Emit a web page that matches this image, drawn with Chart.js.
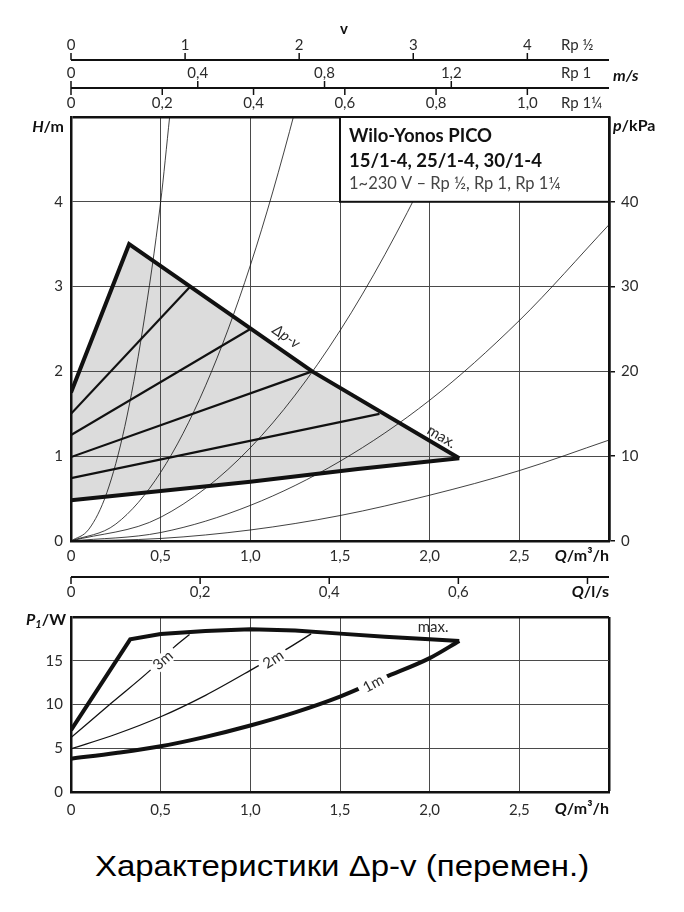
<!DOCTYPE html>
<html>
<head>
<meta charset="utf-8">
<script src="https://cdn.jsdelivr.net/npm/chart.js@4.4.1/dist/chart.umd.min.js"></script>
<style>
  body { margin: 0; background: #fff; }
  #page { position: relative; width: 684px; height: 912px; }
  #head-chart { position: absolute; left: 0; top: 0; }
  #power-chart { position: absolute; left: 0; top: 600px; }
  #caption {
    position: absolute; left: 0; top: 849px; width: 684px;
    text-align: center; color: #000;
    font: 30px/34px "Liberation Sans", Arial, sans-serif;
    transform: scaleX(1.1);
  }
</style>
</head>
<body>
<div id="page">
  <canvas id="head-chart" width="684" height="600"></canvas>
  <canvas id="power-chart" width="684" height="240"></canvas>
  <div id="caption">Характеристики Δp-v (перемен.)</div>
</div>
<script>
const FONT = "Lato";
const INK = "#111";
const TICK_INK = "#2b2b2b";
const GRID = "#4a4a4a";
const AREA = "#dcdcdc";

// tick labels
const qLabels = ["0", "0,5", "1,0", "1,5", "2,0", "2,5", ""];
const hLabels = ["0", "1", "2", "3", "4", ""];
const pLabels = ["0", "10", "20", "30", "40", ""];
const powerLabels = ["0", "5", "10", "15", ""];

// velocity scales above the head chart, one per connection size
const pipeNames = ["Rp ½", "Rp 1", "Rp 1¼"];
const pipeBore = [15, 25, 30]; // mm
const vHalfTicks = [0, 1, 2, 3, 4];
const vHalfLabels = ["0", "1", "2", "3", "4"];
const vOneTicks = [0, 0.4, 0.8, 1.2];
const vOneLabels = ["0", "0,4", "0,8", "1,2"];
const vOneQTicks = [0, 0.2, 0.4, 0.6, 0.8, 1.0];
const vOneQLabels = ["0", "0,2", "0,4", "0,6", "0,8", "1,0"];
const qlTicks = [0, 0.2, 0.4, 0.6, 0.8];
const qlLabels = ["0", "0,2", "0,4", "0,6", ""];

const boxLines = ["Wilo-Yonos PICO", "15/1-4, 25/1-4, 30/1-4", "1~230 V – Rp ½, Rp 1, Rp 1¼"];

// head H/m over Q/m³/h
const maxCurve = [[0, 1.75], [0.324, 3.5], [1.345, 2.0], [2.165, 0.975]];
const minCurve = [[0, 0.48], [1.0, 0.70], [1.6, 0.85], [2.165, 0.975]];
const setLine1 = [[0, 1.5], [0.665, 3.0]];
const setLine2 = [[0, 1.25], [1.0, 2.5]];
const setLine3 = [[0, 0.99], [1.345, 2.0]];
const setLine4 = [[0, 0.74], [1.72, 1.5]];

// system curves
const sysCurveA = [[0, 0], [0.1, 0.14], [0.2, 0.57], [0.3, 1.35], [0.4, 2.5], [0.5, 4.0], [0.55, 5.0], [0.6, 6.0]];
const sysCurveB = [[0, 0], [0.25, 0.2], [0.5, 0.81], [0.75, 1.83], [1.0, 3.25], [1.25, 5.08], [1.4, 6.4]];
const sysCurveC = [[0, 0], [0.5, 0.28], [1.0, 1.1], [1.5, 2.48], [2.0, 4.4], [2.25, 5.6]];
const sysCurveD = [[0, 0], [0.5, 0.1], [1.0, 0.42], [1.5, 0.94], [2.0, 1.66], [2.5, 2.6], [3.0, 3.73]];
const sysCurveE = [[0, 0], [0.5, 0.03], [1.0, 0.13], [1.5, 0.3], [2.0, 0.54], [2.5, 0.83], [3.0, 1.19]];

// power P1/W over Q/m³/h
const powerMax = [[0, 7.08], [0.33, 17.44], [0.5, 18.05], [0.75, 18.4], [1.0, 18.6], [1.25, 18.45], [1.5, 18.1], [1.75, 17.75], [2.0, 17.45], [2.165, 17.26]];
const power1m = [[0, 3.81], [0.25, 4.45], [0.5, 5.22], [0.75, 6.3], [1.0, 7.6], [1.25, 9.1], [1.5, 10.9], [1.75, 13.1], [2.0, 15.3], [2.165, 17.26]];
const power2m = [[0, 4.93], [0.25, 6.6], [0.5, 8.6], [0.75, 11.05], [1.0, 13.9], [1.2, 16.3], [1.339, 18.07]];
const power3m = [[0, 6.22], [0.227, 10.2], [0.441, 13.9], [0.572, 16.5], [0.661, 18.0]];

const headNotes = [
  { text: "Δp-v", q: 1.2, v: 2.41, angle: 35, italic: true },
  { text: "max.", q: 2.067, v: 1.23, angle: 31 },
];
const powerNotes = [
  { text: "3m", q: 0.513, v: 15.03, angle: -41, knock: true },
  { text: "2m", q: 1.128, v: 15.14, angle: -33, knock: true },
  { text: "1m", q: 1.686, v: 12.38, angle: -28, knock: true },
  { text: "max.", q: 2.019, v: 18.85, angle: 0 },
];

const Q_MAX = 3; // m³/h
const velocityMax = (bore) => Q_MAX / 3600 / (Math.PI * Math.pow(bore / 2000, 2));

const toPoints = (pairs) => pairs.map(([x, y]) => ({ x, y }));
const line = (pairs, width, extra = {}) => ({
  data: toPoints(pairs),
  borderColor: INK,
  borderWidth: width,
  pointRadius: 0,
  fill: false,
  tension: 0,
  ...extra,
});
const smooth = { cubicInterpolationMode: "monotone" };

const tickFont = { family: FONT, size: 15 };
const edgeWidth = (edge) => (ctx) => (ctx.tick && ctx.tick.value === edge ? 2.5 : 1);
const edgeColor = (edge) => (ctx) => (ctx.tick && ctx.tick.value === edge ? INK : GRID);

const hiddenScale = (max) => ({ type: "linear", position: "top", display: false, min: 0, max: max });

const drawRich = (ctx, parts, x, y, align) => {
  let w = 0;
  parts.forEach(([t, f]) => {
    ctx.font = f;
    w += ctx.measureText(t).width;
  });
  let cx = align === "right" ? x - w : x;
  ctx.textAlign = "left";
  ctx.textBaseline = "alphabetic";
  parts.forEach(([t, f, dy]) => {
    ctx.font = f;
    ctx.fillText(t, cx, y + (dy || 0));
    cx += ctx.measureText(t).width;
  });
};

const drawNotes = (chart, notes, yId) => {
  const { ctx } = chart;
  notes.forEach((n) => {
    const x = chart.scales.x.getPixelForValue(n.q);
    const y = chart.scales[yId].getPixelForValue(n.v);
    ctx.save();
    ctx.translate(x, y);
    ctx.rotate((n.angle * Math.PI) / 180);
    ctx.font = `${n.italic ? "italic " : ""}15px ${FONT}`;
    const w = ctx.measureText(n.text).width;
    if (n.knock) {
      ctx.fillStyle = "#fff";
      ctx.fillRect(-w / 2 - 5, -7, w + 10, 14);
    }
    ctx.fillStyle = TICK_INK;
    ctx.textAlign = "center";
    ctx.textBaseline = "middle";
    ctx.fillText(n.text, 0, 0);
    ctx.restore();
  });
};

const auxAxes = [
  { id: "vHalf", y: 60, dir: -1, ticks: vHalfTicks, labels: vHalfLabels, name: pipeNames[0] },
  { id: "vOne", y: 88, dir: -1, ticks: vOneTicks, labels: vOneLabels, name: pipeNames[1] },
  { id: "vOneQ", y: 88, dir: 1, ticks: vOneQTicks, labels: vOneQLabels, name: pipeNames[2] },
  { id: "ql", y: 577, dir: 1, ticks: qlTicks, labels: qlLabels, name: null },
];

const headDecor = {
  id: "headDecor",
  afterDatasetsDraw(chart) {
    const { ctx } = chart;
    const x = chart.scales.x;
    const y = chart.scales.y;
    const l = x.getPixelForValue(1.5);
    const r = x.getPixelForValue(3);
    const t = y.getPixelForValue(5);
    const b = y.getPixelForValue(4);
    ctx.save();
    ctx.fillStyle = "#fff";
    ctx.fillRect(l, t, r - l, b - t);
    ctx.strokeStyle = INK;
    ctx.lineWidth = 2;
    ctx.strokeRect(l, t, r - l, b - t);
    ctx.textAlign = "left";
    ctx.textBaseline = "alphabetic";
    ctx.fillStyle = INK;
    ctx.font = `bold 18.5px ${FONT}`;
    ctx.fillText(boxLines[0], l + 9, t + 25);
    ctx.fillText(boxLines[1], l + 9, t + 50);
    ctx.fillStyle = "#444";
    ctx.font = `16.5px ${FONT}`;
    ctx.fillText(boxLines[2], l + 9, t + 72);
    ctx.restore();
    drawNotes(chart, headNotes, "y");
  },
  afterDraw(chart) {
    const { ctx, chartArea } = chart;
    ctx.save();
    auxAxes.forEach((a) => {
      const scale = chart.scales[a.id];
      ctx.strokeStyle = INK;
      ctx.lineWidth = 2.2;
      ctx.beginPath();
      ctx.moveTo(chartArea.left, a.y);
      ctx.lineTo(chartArea.right, a.y);
      ctx.stroke();
      ctx.lineWidth = 1.5;
      ctx.font = `15px ${FONT}`;
      ctx.fillStyle = TICK_INK;
      ctx.textAlign = "center";
      ctx.textBaseline = "middle";
      a.ticks.forEach((tick, i) => {
        const px = scale.getPixelForValue(tick);
        ctx.beginPath();
        ctx.moveTo(px, a.y);
        ctx.lineTo(px, a.y + a.dir * 7);
        ctx.stroke();
        ctx.fillText(a.labels[i], px, a.y + a.dir * 15);
      });
      if (a.name) {
        ctx.textAlign = "left";
        ctx.fillText(a.name, chartArea.right - 48, a.y + a.dir * 15);
      }
    });
    ctx.fillStyle = INK;
    ctx.textAlign = "center";
    ctx.textBaseline = "alphabetic";
    ctx.font = `bold 15px ${FONT}`;
    ctx.fillText("v", (chartArea.left + chartArea.right) / 2 + 4, 34);
    const bold = `bold 16px ${FONT}`;
    const boldIt = `italic bold 16px ${FONT}`;
    drawRich(ctx, [["m/s", boldIt]], 613, 81, "left");
    drawRich(ctx, [["H", boldIt], ["/m", bold]], 64, 132, "right");
    drawRich(ctx, [["p", boldIt], ["/kPa", bold]], 613, 131, "left");
    drawRich(ctx, [["Q", boldIt], ["/m³/h", bold]], chartArea.right, 561, "right");
    drawRich(ctx, [["Q", boldIt], ["/l/s", bold]], chartArea.right, 597, "right");
    ctx.restore();
  },
};

const powerDecor = {
  id: "powerDecor",
  afterDatasetsDraw(chart) {
    drawNotes(chart, powerNotes, "y");
  },
  afterDraw(chart) {
    const { ctx, chartArea } = chart;
    ctx.save();
    ctx.fillStyle = INK;
    const bold = `bold 16px ${FONT}`;
    const boldIt = `italic bold 16px ${FONT}`;
    drawRich(ctx, [["P", boldIt], ["1", `italic bold 11px ${FONT}`, 3], ["/W", bold]], 66, 25, "right");
    drawRich(ctx, [["Q", boldIt], ["/m³/h", bold]], chartArea.right, 214, "right");
    ctx.restore();
  },
};

const baseOptions = {
  responsive: false,
  animation: false,
  devicePixelRatio: 1,
  events: [],
};

new Chart(document.getElementById("head-chart"), {
  type: "line",
  data: {
    datasets: [
      line(maxCurve, 4, { fill: "+1", backgroundColor: AREA, borderJoinStyle: "miter" }),
      line(minCurve, 4),
      line(setLine1, 2.2),
      line(setLine2, 2.2),
      line(setLine3, 2.2),
      line(setLine4, 2.2),
      line(sysCurveA, 0.8, smooth),
      line(sysCurveB, 0.8, smooth),
      line(sysCurveC, 0.8, smooth),
      line(sysCurveD, 0.8, smooth),
      line(sysCurveE, 0.8, smooth),
    ],
  },
  options: {
    ...baseOptions,
    layout: { padding: { top: 117, left: 0, right: 0, bottom: 0 } },
    plugins: {
      legend: { display: false },
      tooltip: { enabled: false },
      filler: { drawTime: "beforeDraw" },
    },
    scales: {
      x: {
        type: "linear",
        position: "bottom",
        min: 0,
        max: Q_MAX,
        ticks: { stepSize: 0.5, padding: 6, color: TICK_INK, font: tickFont, maxRotation: 0, autoSkip: false,
          callback: (v, i) => qLabels[i] ?? "" },
        grid: { drawTicks: false, color: edgeColor(Q_MAX), lineWidth: edgeWidth(Q_MAX) },
        border: { color: INK, width: 2.5 },
        afterFit: (s) => { s.height = 59; },
      },
      y: {
        type: "linear",
        position: "left",
        min: 0,
        max: 5,
        ticks: { stepSize: 1, padding: 8, color: TICK_INK, font: tickFont, callback: (v, i) => hLabels[i] ?? "" },
        grid: { drawTicks: false, color: edgeColor(5), lineWidth: edgeWidth(5) },
        border: { color: INK, width: 2.5 },
        afterFit: (s) => { s.width = 71; },
      },
      p: {
        type: "linear",
        position: "right",
        min: 0,
        max: 50,
        ticks: { stepSize: 10, padding: 6, color: TICK_INK, font: tickFont, callback: (v, i) => pLabels[i] ?? "" },
        grid: { drawOnChartArea: false, tickLength: 6, lineWidth: 1.5,
          tickColor: (ctx) => (ctx.tick && ctx.tick.value === 50 ? "rgba(0,0,0,0)" : INK) },
        border: { color: INK, width: 2.5 },
        afterFit: (s) => { s.width = 75; },
      },
      vHalf: hiddenScale(velocityMax(pipeBore[0])),
      vOne: hiddenScale(velocityMax(pipeBore[1])),
      vOneQ: hiddenScale(velocityMax(pipeBore[2])),
      ql: hiddenScale(Q_MAX / 3.6),
    },
  },
  plugins: [headDecor],
});

new Chart(document.getElementById("power-chart"), {
  type: "line",
  data: {
    datasets: [
      line(powerMax, 4, { borderJoinStyle: "miter" }),
      line(power1m, 4, smooth),
      line(power2m, 1.3, smooth),
      line(power3m, 1.3, smooth),
    ],
  },
  options: {
    ...baseOptions,
    layout: { padding: { top: 11, left: 0, right: 75, bottom: 0 } },
    plugins: { legend: { display: false }, tooltip: { enabled: false } },
    scales: {
      x: {
        type: "linear",
        position: "bottom",
        min: 0,
        max: Q_MAX,
        ticks: { stepSize: 0.5, padding: 9, color: TICK_INK, font: tickFont, maxRotation: 0, autoSkip: false,
          callback: (v, i) => qLabels[i] ?? "" },
        grid: { drawTicks: false, color: edgeColor(Q_MAX), lineWidth: edgeWidth(Q_MAX) },
        border: { color: INK, width: 2.5 },
        afterFit: (s) => { s.height = 48; },
      },
      y: {
        type: "linear",
        position: "left",
        min: 0,
        max: 20,
        ticks: { stepSize: 5, padding: 8, color: TICK_INK, font: tickFont, callback: (v, i) => powerLabels[i] ?? "" },
        grid: { drawTicks: false, color: edgeColor(20), lineWidth: edgeWidth(20) },
        border: { color: INK, width: 2.5 },
        afterFit: (s) => { s.width = 71; },
      },
    },
  },
  plugins: [powerDecor],
});
</script>
</body>
</html>
